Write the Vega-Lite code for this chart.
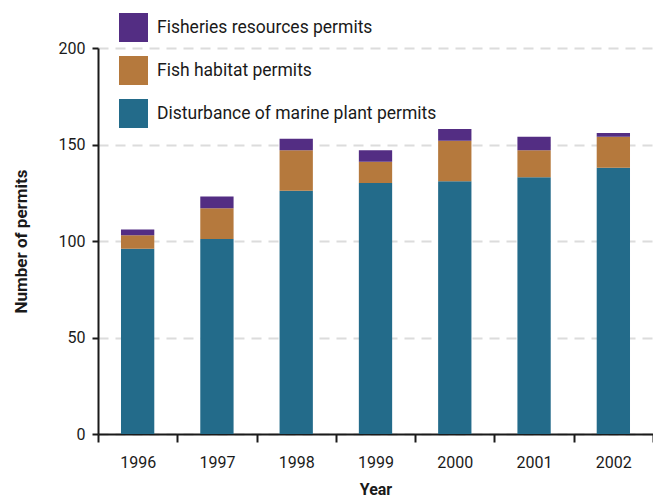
{
  "$schema": "https://vega.github.io/schema/vega-lite/v6.json",
  "width": 555,
  "height": 386,
  "autosize": {"type": "none"},
  "padding": {"left": 98, "top": 48, "right": 0, "bottom": 66},
  "background": "white",
  "config": {
    "view": {"stroke": null},
    "font": "Roboto",
    "axis": {"labelFont": "Roboto", "titleFont": "Roboto"},
    "legend": {"labelFont": "Roboto"}
  },
  "data": {
    "values": [
      {"year": "1996", "type": "Disturbance of marine plant permits", "permits": 96},
      {"year": "1996", "type": "Fish habitat permits", "permits": 7},
      {"year": "1996", "type": "Fisheries resources permits", "permits": 3},
      {"year": "1997", "type": "Disturbance of marine plant permits", "permits": 101},
      {"year": "1997", "type": "Fish habitat permits", "permits": 16},
      {"year": "1997", "type": "Fisheries resources permits", "permits": 6},
      {"year": "1998", "type": "Disturbance of marine plant permits", "permits": 126},
      {"year": "1998", "type": "Fish habitat permits", "permits": 21},
      {"year": "1998", "type": "Fisheries resources permits", "permits": 6},
      {"year": "1999", "type": "Disturbance of marine plant permits", "permits": 130},
      {"year": "1999", "type": "Fish habitat permits", "permits": 11},
      {"year": "1999", "type": "Fisheries resources permits", "permits": 6},
      {"year": "2000", "type": "Disturbance of marine plant permits", "permits": 131},
      {"year": "2000", "type": "Fish habitat permits", "permits": 21},
      {"year": "2000", "type": "Fisheries resources permits", "permits": 6},
      {"year": "2001", "type": "Disturbance of marine plant permits", "permits": 133},
      {"year": "2001", "type": "Fish habitat permits", "permits": 14},
      {"year": "2001", "type": "Fisheries resources permits", "permits": 7},
      {"year": "2002", "type": "Disturbance of marine plant permits", "permits": 138},
      {"year": "2002", "type": "Fish habitat permits", "permits": 16},
      {"year": "2002", "type": "Fisheries resources permits", "permits": 2}
    ]
  },
  "mark": {"type": "bar", "width": {"band": 0.42}},
  "encoding": {
    "x": {
      "field": "year",
      "type": "ordinal",
      "scale": {"paddingInner": 0, "paddingOuter": 0},
      "axis": {
        "title": "Year",
        "titleFontSize": 16,
        "titleFontWeight": "bold",
        "titleColor": "#1a1a1a",
        "titlePadding": 11,
        "labelAngle": 0,
        "labelFontSize": 16,
        "labelColor": "#1a1a1a",
        "labelPadding": 12,
        "tickBand": "extent",
        "tickSize": 8,
        "tickColor": "#1a1a1a",
        "tickWidth": 2,
        "domainColor": "#1a1a1a",
        "domainWidth": 2,
        "grid": false
      }
    },
    "y": {
      "field": "permits",
      "type": "quantitative",
      "aggregate": "sum",
      "stack": "zero",
      "scale": {"domain": [0, 200]},
      "axis": {
        "title": "Number of permits",
        "titleFontSize": 17,
        "titleFontWeight": "bold",
        "titleColor": "#1a1a1a",
        "titlePadding": 28,
        "values": [0, 50, 100, 150, 200],
        "labelFontSize": 16,
        "labelColor": "#1a1a1a",
        "labelPadding": 7,
        "tickSize": 6,
        "tickColor": "#1a1a1a",
        "tickWidth": 2,
        "domainColor": "#1a1a1a",
        "domainWidth": 2,
        "grid": true,
        "gridColor": "#dcdcdc",
        "gridDash": [10, 7],
        "gridWidth": 2
      }
    },
    "color": {
      "field": "type",
      "type": "nominal",
      "scale": {
        "domain": ["Fisheries resources permits", "Fish habitat permits", "Disturbance of marine plant permits"],
        "range": ["#532d83", "#b5793d", "#236b8a"]
      },
      "legend": {
        "title": null,
        "orient": "none",
        "legendX": 21,
        "legendY": -35,
        "padding": 0,
        "symbolType": "square",
        "symbolSize": 841,
        "symbolStrokeWidth": 0,
        "symbolOpacity": 1,
        "rowPadding": 14,
        "labelFontSize": 17.5,
        "labelLimit": 500,
        "labelColor": "#1a1a1a",
        "labelOffset": 9
      }
    },
    "order": {"field": "type", "sort": "ascending"}
  }
}
